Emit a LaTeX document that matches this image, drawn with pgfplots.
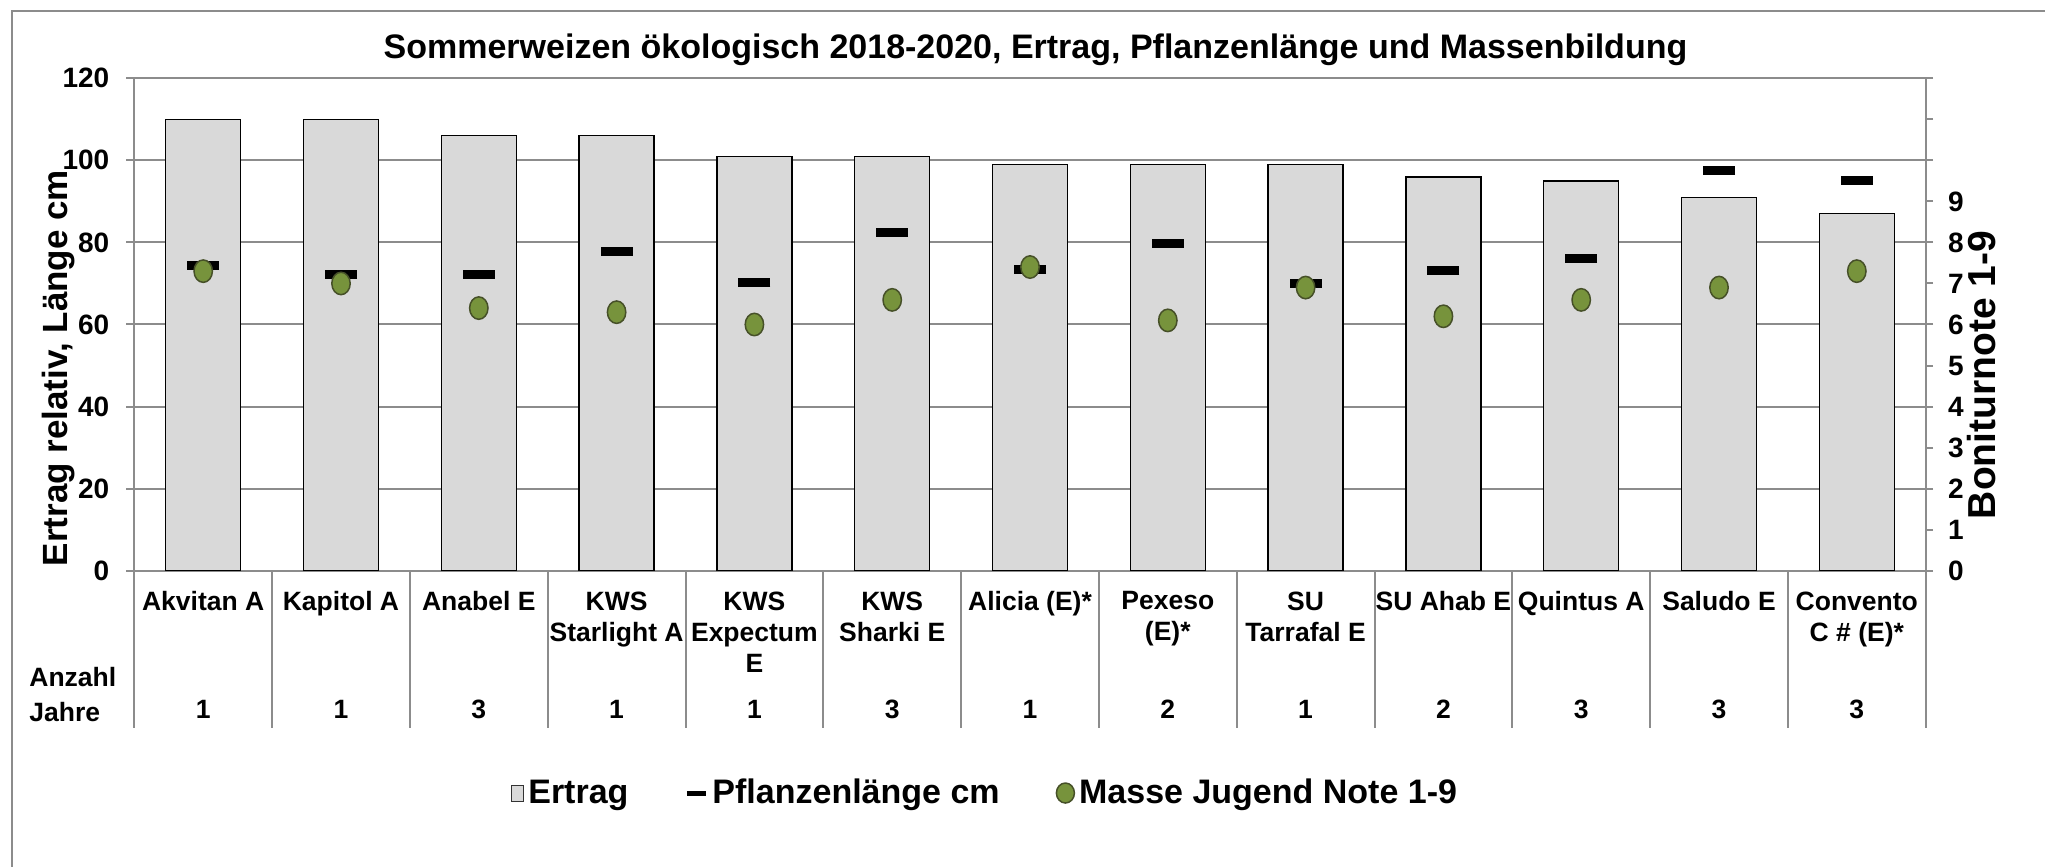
\documentclass[border=0pt]{standalone}
\usepackage{pgfplots}
\pgfplotsset{compat=1.18}
\usepackage{fontspec}
\setmainfont{Liberation Sans}
\definecolor{barfill}{RGB}{217,217,217}
\definecolor{gridgray}{RGB}{140,140,140}
\definecolor{dotgreen}{RGB}{119,147,60}
\definecolor{dotedge}{RGB}{70,80,40}
\newcommand{\catfont}{\fontsize{13.25}{15.5}\selectfont\bfseries}
\newcommand{\tickfont}{\fontsize{14}{16}\selectfont\bfseries}
\begin{document}
\begin{tikzpicture}[font=\bfseries]
\useasboundingbox (0,0) rectangle (1022.5pt,433.5pt);
\draw[gridgray, line width=1pt] (5.85pt,-10pt) -- (5.85pt,428pt) -- (1040pt,428pt);
\node[font=\fontsize{17}{20}\selectfont\bfseries] at (517.75pt,408.5pt) {Sommerweizen ökologisch 2018-2020, Ertrag, Pflanzenlänge und Massenbildung};
\node[font=\fontsize{17.5}{20}\selectfont\bfseries, rotate=90] at (29.5pt,249.5pt) {Ertrag relativ, Länge cm};
\node[font=\fontsize{19.5}{22}\selectfont\bfseries, rotate=90] at (991pt,246pt) {Boniturnote 1-9};
\node[font=\catfont, anchor=west, inner sep=0pt] at (14.5pt,95pt) {Anzahl};
\node[font=\catfont, anchor=west, inner sep=0pt] at (14.5pt,77.65pt) {Jahre};

\begin{axis}[
  at={(67.15pt,148.15pt)}, anchor=south west,
  width=895.7pt, height=246.2pt, scale only axis,
  xmin=-0.5, xmax=12.5, ymin=0, ymax=120,
  axis x line*=bottom, axis y line*=left,
  axis line style={gridgray, line width=1pt},
  ytick={0,20,...,120},
  ymajorgrids, grid style={gridgray, line width=1pt},
  tick align=outside,
  major tick length=4pt,
  ytick style={gridgray, line width=1pt},
  yticklabel style={font=\tickfont, xshift=-5pt},
  /pgf/number format/assume math mode=true,
  xtick={0,...,12},
  major x tick style={draw=none},
  xticklabels={Akvitan A, Kapitol A, Anabel E, KWS\\Starlight A, KWS\\Expectum\\E, KWS\\Sharki E, Alicia (E)*, Pexeso\\(E)*, SU\\Tarrafal E, SU Ahab E, Quintus A, Saludo E, Convento\\C \# (E)*},
  xticklabel style={font=\catfont, align=center, yshift=-3pt},
  minor xtick={-0.5,0.5,...,12.5},
  minor tick length=78.5pt,
  every minor tick/.append style={gridgray, line width=1pt},
  legend columns=3,
  legend style={at={(0.2069,-0.4515)}, anchor=west, draw=none, fill=none,
    font=\fontsize{17}{20}\selectfont\bfseries,
    /tikz/every even column/.append style={column sep=26pt}},
]
\addplot[ybar, bar width=37.5pt, fill=barfill, draw=black, line width=0.75pt,
  legend image code/.code={\draw[fill=barfill,draw=black!80,line width=0.5pt] (0pt,-4pt) rectangle (6pt,4pt);}]
  coordinates {(0,110) (1,110) (2,106) (3,106) (4,101) (5,101) (6,99) (7,99) (8,99) (9,96) (10,95) (11,91) (12,87)};
\addlegendentry{Ertrag}
\addplot[only marks, mark=-, mark size=8pt, mark options={line width=4.5pt, black},
  legend image code/.code={\draw[line width=2.5pt] (0pt,0pt) -- (9.5pt,0pt);}]
  coordinates {(0,74.3) (1,72.1) (2,72.2) (3,77.8) (4,70.2) (5,82.4) (6,73.5) (7,79.8) (8,70.0) (9,73.2) (10,76.1) (11,97.6) (12,95.1)};
\addlegendentry{Pflanzenlänge cm}
\addlegendimage{legend image code/.code={\draw[fill=dotgreen,draw=dotedge,line width=0.75pt] (4.5pt,0pt) ellipse (4.5pt and 5pt);}}
\addlegendentry{Masse Jugend Note 1-9}
\end{axis}

\begin{axis}[
  at={(67.15pt,148.15pt)}, anchor=south west,
  width=895.7pt, height=246.2pt, scale only axis,
  xmin=-0.5, xmax=12.5, ymin=0, ymax=12,
  axis y line*=right, axis x line*=bottom,
  y axis line style={gridgray, line width=1pt},
  x axis line style={draw=none},
  ytick={0,...,12}, yticklabels={0,1,2,3,4,5,6,7,8,9,{},{},{}},
  tick align=outside, major tick length=3.65pt,
  ytick style={gridgray, line width=1pt},
  yticklabel style={font=\tickfont, xshift=4pt},
  xtick={0,...,12},
  major x tick style={draw=none},
  xticklabels={1,1,3,1,1,3,1,2,1,2,3,3,3},
  xticklabel style={font=\catfont, yshift=-57.4pt},
]
\addplot[only marks, mark=*, mark size=4.6pt, mark options={fill=dotgreen, draw=dotedge, line width=0.75pt, yscale=1.22}]
  coordinates {(0,7.3) (1,7.0) (2,6.4) (3,6.3) (4,6.0) (5,6.6) (6,7.4) (7,6.1) (8,6.9) (9,6.2) (10,6.6) (11,6.9) (12,7.3)};
\end{axis}
\end{tikzpicture}
\end{document}
